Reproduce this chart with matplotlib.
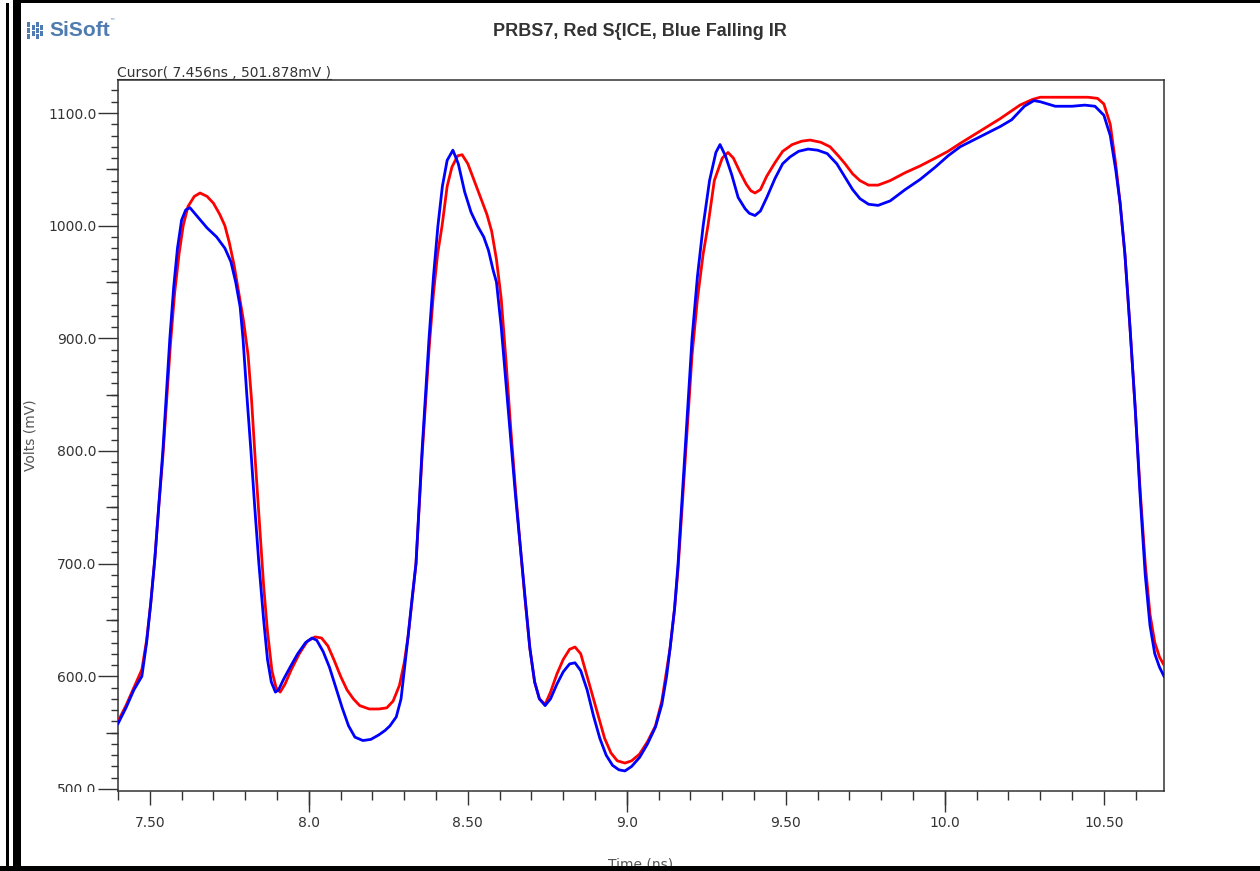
import numpy as np
import matplotlib.pyplot as plt
from matplotlib.patches import Rectangle
from matplotlib.lines import Line2D
from matplotlib.transforms import Bbox, TransformedBbox
from matplotlib.ticker import MultipleLocator, FuncFormatter, NullLocator

# waveform samples: (time ns, volts mV)
red_pts = [
    (7.400, 560), (7.425, 574), (7.450, 590), (7.475, 606), (7.490, 632), (7.503, 665),
    (7.516, 705), (7.528, 750), (7.541, 795), (7.553, 845), (7.565, 895), (7.578, 940),
    (7.592, 975), (7.605, 1000), (7.620, 1017), (7.640, 1026), (7.658, 1029), (7.680, 1026),
    (7.700, 1020), (7.720, 1010), (7.736, 1000), (7.750, 985), (7.765, 965), (7.780, 940),
    (7.795, 915), (7.809, 885), (7.820, 845), (7.832, 790), (7.845, 735), (7.858, 680),
    (7.870, 640), (7.884, 605), (7.897, 590), (7.910, 586), (7.925, 593), (7.945, 606),
    (7.970, 620), (7.995, 631), (8.020, 635), (8.040, 634), (8.060, 627), (8.080, 614),
    (8.100, 600), (8.120, 588), (8.140, 580), (8.160, 574), (8.190, 571), (8.220, 571),
    (8.245, 572), (8.265, 578), (8.285, 592), (8.300, 612), (8.312, 635), (8.325, 668),
    (8.337, 700), (8.356, 795), (8.378, 890), (8.392, 940), (8.405, 975), (8.419, 1000),
    (8.435, 1035), (8.450, 1052), (8.468, 1062), (8.482, 1063), (8.500, 1055), (8.520, 1040),
    (8.540, 1025), (8.560, 1010), (8.575, 995), (8.590, 970), (8.605, 935), (8.620, 880),
    (8.635, 820), (8.650, 765), (8.665, 715), (8.680, 668), (8.695, 625), (8.710, 595),
    (8.725, 580), (8.743, 575), (8.760, 586), (8.780, 602), (8.800, 615), (8.820, 624),
    (8.837, 626), (8.855, 620), (8.870, 605), (8.890, 585), (8.910, 565), (8.930, 545),
    (8.950, 532), (8.970, 525), (8.994, 523), (9.015, 525), (9.040, 531), (9.065, 542),
    (9.090, 556), (9.110, 578), (9.125, 605), (9.136, 625), (9.150, 660), (9.161, 695),
    (9.183, 790), (9.205, 885), (9.222, 935), (9.240, 975), (9.255, 1000), (9.275, 1040),
    (9.300, 1060), (9.318, 1065), (9.335, 1060), (9.355, 1048), (9.375, 1037), (9.390, 1031),
    (9.403, 1029), (9.420, 1032), (9.440, 1044), (9.466, 1056), (9.490, 1066), (9.520, 1072),
    (9.550, 1075), (9.576, 1076), (9.610, 1074), (9.639, 1070), (9.665, 1062), (9.686, 1055),
    (9.710, 1046), (9.733, 1040), (9.760, 1036), (9.790, 1036), (9.828, 1040), (9.875, 1047),
    (9.922, 1053), (9.970, 1060), (10.010, 1066), (10.048, 1073), (10.111, 1084), (10.174, 1095),
    (10.236, 1107), (10.275, 1112), (10.300, 1114), (10.350, 1114), (10.400, 1114), (10.450, 1114),
    (10.480, 1113), (10.500, 1108), (10.520, 1090), (10.537, 1055), (10.551, 1020), (10.566, 975),
    (10.582, 910), (10.598, 840), (10.614, 765), (10.630, 700), (10.645, 655), (10.660, 630),
    (10.675, 617), (10.689, 610),
]

blue_pts = [
    (7.400, 558), (7.425, 572), (7.450, 588), (7.475, 600), (7.490, 630), (7.503, 665),
    (7.516, 705), (7.528, 750), (7.541, 800), (7.552, 850), (7.563, 900), (7.575, 945),
    (7.587, 980), (7.600, 1005), (7.613, 1014), (7.626, 1016), (7.650, 1008), (7.680, 998),
    (7.710, 990), (7.736, 980), (7.755, 968), (7.770, 950), (7.784, 928), (7.793, 900),
    (7.805, 850), (7.818, 800), (7.830, 750), (7.843, 700), (7.858, 650), (7.870, 615),
    (7.882, 595), (7.895, 586), (7.905, 588), (7.920, 597), (7.941, 608), (7.965, 620),
    (7.990, 630), (8.010, 634), (8.025, 632), (8.045, 622), (8.065, 608), (8.085, 590),
    (8.105, 572), (8.125, 556), (8.145, 546), (8.170, 543), (8.195, 544), (8.220, 548),
    (8.240, 552), (8.255, 556), (8.275, 564), (8.290, 580), (8.302, 610), (8.312, 635),
    (8.325, 670), (8.337, 700), (8.356, 800), (8.367, 850), (8.378, 900), (8.392, 955),
    (8.406, 1000), (8.420, 1035), (8.435, 1058), (8.453, 1067), (8.470, 1055), (8.490, 1030),
    (8.510, 1012), (8.530, 1000), (8.550, 990), (8.565, 978), (8.580, 960), (8.590, 950),
    (8.605, 910), (8.620, 860), (8.635, 810), (8.650, 760), (8.665, 715), (8.680, 670),
    (8.695, 625), (8.710, 595), (8.725, 580), (8.743, 574), (8.760, 580), (8.780, 593),
    (8.800, 604), (8.820, 611), (8.837, 612), (8.855, 605), (8.875, 588), (8.895, 565),
    (8.915, 545), (8.935, 530), (8.955, 521), (8.975, 517), (8.994, 516), (9.015, 520),
    (9.040, 528), (9.065, 540), (9.090, 555), (9.110, 575), (9.125, 600), (9.136, 625),
    (9.150, 660), (9.161, 700), (9.183, 800), (9.205, 900), (9.222, 955), (9.240, 1000),
    (9.260, 1040), (9.280, 1065), (9.293, 1072), (9.310, 1062), (9.330, 1045), (9.350, 1025),
    (9.372, 1015), (9.385, 1011), (9.403, 1009), (9.420, 1013), (9.440, 1025), (9.466, 1042),
    (9.490, 1055), (9.513, 1061), (9.540, 1066), (9.570, 1068), (9.600, 1067), (9.630, 1064),
    (9.660, 1055), (9.686, 1043), (9.710, 1032), (9.733, 1024), (9.760, 1019), (9.790, 1018),
    (9.828, 1022), (9.875, 1032), (9.922, 1041), (9.970, 1052), (10.010, 1062), (10.048, 1070),
    (10.111, 1079), (10.174, 1088), (10.210, 1094), (10.250, 1106), (10.280, 1111), (10.300, 1110),
    (10.347, 1106), (10.400, 1106), (10.440, 1107), (10.472, 1106), (10.500, 1098), (10.520, 1080),
    (10.537, 1050), (10.551, 1020), (10.566, 975), (10.582, 910), (10.598, 840), (10.614, 760),
    (10.630, 690), (10.645, 645), (10.660, 620), (10.675, 608), (10.689, 600),
]

t_red, v_red = np.array(red_pts).T
t_blue, v_blue = np.array(blue_pts).T

title = "PRBS7, Red S{ICE, Blue Falling IR"
cursor_text = "Cursor( 7.456ns , 501.878mV )"

W, H = 1260, 871
fig = plt.figure(figsize=(W / 100, H / 100), dpi=100)
ax = fig.add_axes([118 / W, 1 - 791 / H, (1164 - 118) / W, (791 - 80) / H])

ax.plot(t_red, v_red, color='#ff0000', lw=2.0, zorder=3)
ax.plot(t_blue, v_blue, color='#0000ff', lw=2.0, zorder=4)

ax.set_xlim(7.4, 10.689)
ax.set_ylim(498.2, 1129.3)

for s in ax.spines.values():
    s.set_color('#333333')
    s.set_linewidth(1.1)

# x ticks: labels every 0.5, minor every 0.1, longer marks on whole ns
ax.xaxis.set_major_locator(MultipleLocator(0.5))
ax.xaxis.set_minor_locator(MultipleLocator(0.1))
ax.xaxis.set_major_formatter(FuncFormatter(
    lambda v, p: f'{v:.1f}' if abs(v - round(v)) < 1e-6 else f'{v:.2f}'))
ax.tick_params(axis='x', which='major', length=10, width=1, pad=8, color='#333333',
               labelsize=10, labelcolor='#333333')
ax.tick_params(axis='x', which='minor', length=6.5, width=1, color='#333333')

sx = ax.secondary_xaxis('bottom')
sx.spines['bottom'].set_visible(False)
sx.set_xticks([8, 9, 10])
sx.xaxis.set_minor_locator(NullLocator())
sx.tick_params(length=15, width=1, color='#333333', labelbottom=False)

# y ticks: labels every 100, minor every 10, medium marks at the 50s
ax.yaxis.set_major_locator(MultipleLocator(100))
ax.yaxis.set_minor_locator(MultipleLocator(10))
ax.yaxis.set_major_formatter(FuncFormatter(lambda v, p: f'{v:.1f}'))
ax.tick_params(axis='y', which='major', length=14.5, width=1, pad=1, color='#333333',
               labelsize=10, labelcolor='#333333')
ax.tick_params(axis='y', which='minor', length=5, width=1, color='#333333')

sy = ax.secondary_yaxis('left')
sy.spines['left'].set_visible(False)
sy.set_yticks([550, 650, 750, 850, 950, 1050])
sy.yaxis.set_minor_locator(NullLocator())
sy.tick_params(length=8.6, width=1, color='#333333', labelleft=False)

# bottom label sits on the frame edge and gets cut off
clip = TransformedBbox(Bbox.from_extents(0, 79 / H, 1, 1), fig.transFigure)
for lab in ax.get_yticklabels():
    if lab.get_text() == '500.0':
        lab.set_clip_on(True)
        lab.set_clip_box(clip)

# header
fig.text(640 / W, 1 - 31 / H, title, ha='center', va='center', fontsize=13,
         fontweight='bold', family='Liberation Sans', color='#333333')
cur = fig.text(117 / W, 1 - 77 / H, cursor_text, ha='left', va='baseline',
               fontsize=10, color='#333333')
fig.text(30 / W, 1 - 435 / H, 'Volts (mV)', rotation=90, ha='center', va='center',
         fontsize=10, color='#555555')
fig.text(641 / W, 3 / H, 'Time (ns)', ha='center', va='baseline',
         fontsize=10, color='#555555')

# logo
logo_col = '#4f7bb0'
for i, x0 in enumerate([27, 31.5, 36, 40.5]):
    for y0 in ([22, 28, 34] if i % 2 == 0 else [25, 31]):
        fig.add_artist(Rectangle((x0 / W, 1 - (y0 + 5) / H), 3 / W, 5 / H,
                                 transform=fig.transFigure, color=logo_col, lw=0))
fig.text(49 / W, 1 - 30 / H, 'SiSoft', ha='left', va='center', fontsize=15,
         fontweight='bold', family='Liberation Sans', color=logo_col)
fig.text(109 / W, 1 - 22 / H, '\u2122', ha='left', va='center', fontsize=4,
         color=logo_col)

# underline under the cursor readout
fig.canvas.draw()
bb = cur.get_window_extent()
inv = fig.transFigure.inverted()
(x0, y0), (x1, _) = inv.transform([(bb.x0, bb.y0 + 1), (bb.x1, bb.y0 + 1)])
fig.add_artist(Line2D([x0, x1], [y0, y0], transform=fig.transFigure,
                      color='#333333', lw=0.8))

# window frame
frame = [
    (0, 0, W, 5),            # bottom edge
    (14, H - 3, W - 14, 3),  # top edge
    (13, 0, 8, H),           # thick left bar
    (6, 3, 3, H - 6),        # thin left bar
]
for x, y, w, h in frame:
    fig.add_artist(Rectangle((x / W, y / H), w / W, h / H, transform=fig.transFigure,
                             color='black', lw=0, zorder=10))

fig.savefig('out.png', dpi=100, facecolor='white')
